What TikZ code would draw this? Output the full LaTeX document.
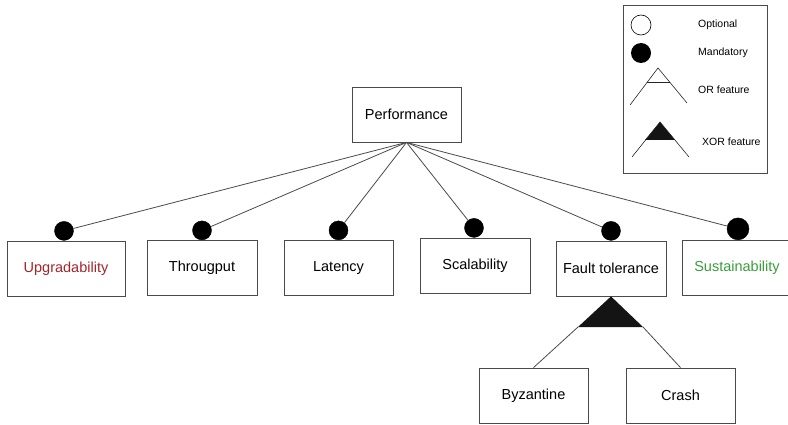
\documentclass[tikz,border=0pt]{standalone}
\usepackage{fontspec}
\setmainfont{Liberation Sans}
\usepackage{xcolor}
\usepackage{tikz}

\definecolor{upgred}{HTML}{A3262A}
\definecolor{susgreen}{HTML}{3A9E3A}
\definecolor{edgegray}{HTML}{4A4A4A}

\tikzset{
    feat/.style={draw=edgegray, line width=0.8pt, rectangle, minimum width=110, minimum height=55, inner sep=0pt, font=\fontsize{14.5}{17}\selectfont},
    mand/.style={circle, fill=black, draw=black, minimum size=19, inner sep=0pt, anchor=south},
    opt/.style={circle, fill=white, draw=black, line width=0.6pt, minimum size=20, inner sep=0pt},
    link/.style={draw=edgegray, line width=0.8pt},
    legtext/.style={anchor=west, inner sep=0pt, font=\fontsize{10.5}{12}\selectfont}
}

\begin{document}
\begin{tikzpicture}[x=1pt, y=-1pt]
    \clip (0,0) rectangle (788,425);
    \fill[white] (0,0) rectangle (788,425);

    % Root feature
    \node[feat, minimum width=109] (perf) at (406.5,114.5) {Performance};

    % Sub features
    \node[feat, minimum width=118, text=upgred] (upg) at (66,268.5) {Upgradability};
    \node[feat] (thr) at (202,268) {Througput};
    \node[feat, minimum width=109] (lat) at (338.5,268) {Latency};
    \node[feat] (sca) at (475,265.5) {Scalability};
    \node[feat] (ft) at (611,268.5) {Fault tolerance};
    \node[feat, text=susgreen] (sus) at (737,268) {Sustainability};

    % Fault tolerance alternatives
    \node[feat, minimum width=109] (byz) at (533.5,395.5) {Byzantine};
    \node[feat, minimum width=109] (cra) at (680.5,395.5) {Crash};

    % Mandatory markers
    \node[mand] (mupg) at (upg.north -| 64,0) {};
    \node[mand] (mthr) at (thr.north) {};
    \node[mand] (mlat) at (lat.north) {};
    \node[mand] (msca) at (sca.north -| 474,0) {};
    \node[mand] (mft) at (ft.north) {};
    \node[mand, minimum size=22] (msus) at (sus.north -| 738,0) {};

    % Connections
    \foreach \m in {mupg,mthr,mlat,msca,mft,msus}
        \draw[link] (perf.south) -- (\m);

    % XOR group
    \coordinate (xl) at (578,327);
    \coordinate (xr) at (643,327);
    \fill[black!92] (ft.south) -- (xl) -- (xr) -- cycle;
    \draw[link] (xl) -- (byz.north);
    \draw[link] (xr) -- (cra.north);

    % Legend
    \node[draw=edgegray, line width=0.8pt, rectangle, minimum width=144, minimum height=168, inner sep=0pt] (legend) at (695,89) {};
    \node[opt] (lopt) at (641,25) {};
    \node[circle, fill=black, minimum size=20, inner sep=0pt] (lmand) at (641,53) {};
    \node[legtext] (topt) at (698,25) {Optional};
    \node[legtext] (tmand) at (698,53) {Mandatory};
    \node[legtext] (tor) at (698,90) {OR feature};
    \node[legtext] (txor) at (702,142) {XOR feature};

    % OR symbol
    \draw[black!85, line width=0.6pt] (630,105) -- (658,68) -- (687,103);
    \draw[black!85, line width=0.6pt] (647.4,82) -- (669.6,82);

    % XOR symbol
    \fill[black!92] (660,122) -- (645,140) -- (675,140) -- cycle;
    \draw[black!85, line width=0.6pt] (632,157) -- (660,122) -- (689,157);
\end{tikzpicture}
\end{document}
